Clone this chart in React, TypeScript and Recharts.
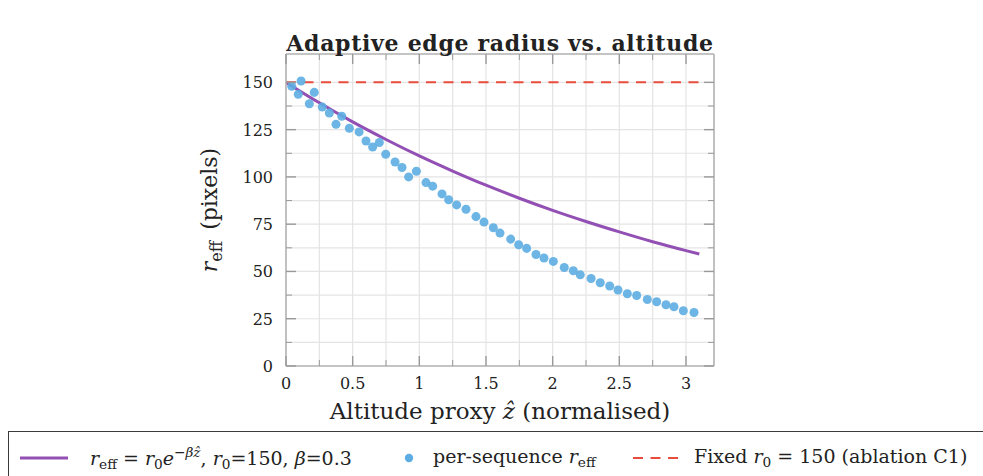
import React from 'react';
import { ComposedChart, Line, Scatter, XAxis, YAxis, CartesianGrid, Label } from 'recharts';

// ---- data ----
const sequenceZ = [0.043, 0.092, 0.113, 0.175, 0.212, 0.272, 0.325, 0.375, 0.418, 0.475, 0.548, 0.6, 0.65, 0.7, 0.748, 0.818, 0.87, 0.92, 0.978, 1.05, 1.1, 1.17, 1.22, 1.28, 1.35, 1.425, 1.485, 1.555, 1.605, 1.685, 1.745, 1.805, 1.875, 1.935, 2.005, 2.087, 2.155, 2.207, 2.288, 2.357, 2.428, 2.49, 2.56, 2.63, 2.71, 2.78, 2.85, 2.91, 2.98, 3.06];
const sequenceR = [147.9, 143.7, 150.7, 138.7, 144.7, 137.0, 133.8, 127.8, 132.1, 125.7, 123.8, 119.0, 115.8, 118.2, 112.0, 107.9, 105.0, 100.0, 103.0, 97.0, 95.1, 91.0, 87.9, 85.2, 82.9, 79.0, 76.1, 73.1, 70.3, 67.1, 64.1, 62.2, 59.0, 57.1, 55.3, 52.1, 50.4, 48.2, 46.3, 44.0, 42.3, 40.2, 38.2, 37.3, 35.2, 34.0, 32.4, 31.3, 29.2, 28.3];
const curveZ = [0, 0.25, 0.5, 0.75, 1.0, 1.25, 1.5, 1.75, 2.0, 2.25, 2.5, 2.75, 3.0, 3.1];
const curveR = [150, 139.2, 129.1, 119.8, 111.1, 103.1, 95.6, 88.7, 82.3, 76.4, 70.9, 65.7, 61.0, 59.2];
const fixedZ = [0, 3.1];
const fixedR = [150, 150];
const xTicks = [0, 0.25, 0.5, 0.75, 1, 1.25, 1.5, 1.75, 2, 2.25, 2.5, 2.75, 3];
const xLabeled = [0, 0.5, 1, 1.5, 2, 2.5, 3];
const yTicks = [0, 12.5, 25, 37.5, 50, 62.5, 75, 87.5, 100, 112.5, 125, 137.5, 150];
const yLabeled = [0, 25, 50, 75, 100, 125, 150];
const xDomain = [0, 3.21];
const yDomain = [0, 165];

const sequenceData = sequenceZ.map((z, i) => ({ z, r: sequenceR[i] }));
const curveData = curveZ.map((z, i) => ({ z, r: curveR[i] }));
const fixedData = fixedZ.map((z, i) => ({ z, r: fixedR[i] }));

// ---- styles ----
const FONT = '"DejaVu Serif", "Liberation Serif", serif';
const PURPLE = '#9350b4';
const BLUE = '#5dade2';
const RED = '#e74c3c';
const SPINE = '#b5b5b5';
const TICK = '#9a9a9a';
const GRID = '#e4e4e4';
const TEXT = '#222';

const isIn = (arr: number[], v: number) => arr.some((a) => Math.abs(a - v) < 1e-9);

const BottomTick = (props: any) => {
  const { x, y, payload } = props;
  const major = isIn(xLabeled, payload.value);
  return (
    <g>
      <line x1={x} x2={x} y1={y} y2={y - (major ? 10 : 6)} stroke={TICK} strokeWidth={major ? 1.4 : 1} />
      {major && (
        <text x={x} y={y + 23} textAnchor="middle" fontFamily={FONT} fontSize={16} fill={TEXT}>
          {String(payload.value)}
        </text>
      )}
    </g>
  );
};

const TopTick = (props: any) => {
  const { x, y, payload } = props;
  const major = isIn(xLabeled, payload.value);
  return <line x1={x} x2={x} y1={y} y2={y + (major ? 10 : 6)} stroke={TICK} strokeWidth={major ? 1.4 : 1} />;
};

const LeftTick = (props: any) => {
  const { x, y, payload } = props;
  const major = isIn(yLabeled, payload.value);
  return (
    <g>
      <line x1={x} x2={x + (major ? 10 : 6)} y1={y} y2={y} stroke={TICK} strokeWidth={major ? 1.4 : 1} />
      {major && (
        <text x={x - 13} y={y + 6} textAnchor="end" fontFamily={FONT} fontSize={16} fill={TEXT}>
          {String(payload.value)}
        </text>
      )}
    </g>
  );
};

const RightTick = (props: any) => {
  const { x, y, payload } = props;
  const major = isIn(yLabeled, payload.value);
  return <line x1={x} x2={x - (major ? 10 : 6)} y1={y} y2={y} stroke={TICK} strokeWidth={major ? 1.4 : 1} />;
};

const TitleLabel = (props: any) => {
  const vb = props.viewBox || { x: 286, y: 53, width: 428 };
  return (
    <text x={vb.x + vb.width / 2} y={vb.y - 2} textAnchor="middle" fontFamily={FONT} fontWeight="bold" fontSize={22} letterSpacing={0.7} fill={TEXT}>
      Adaptive edge radius vs. altitude
    </text>
  );
};

const XTitle = (props: any) => {
  const vb = props.viewBox || { x: 286, y: 366, width: 428 };
  return (
    <text x={vb.x + vb.width / 2} y={vb.y + 53} textAnchor="middle" fontFamily={FONT} fontSize={23} fill={TEXT}>
      Altitude proxy <tspan fontStyle="italic">{'z\u0302'}</tspan> (normalised)
    </text>
  );
};

const YTitle = (props: any) => {
  const vb = props.viewBox || { x: 226, y: 54, width: 60, height: 312 };
  const cx = vb.x - 9;
  const cy = vb.y + vb.height / 2;
  return (
    <text x={cx} y={cy} transform={`rotate(-90 ${cx} ${cy})`} textAnchor="middle" fontFamily={FONT} fontSize={22} fill={TEXT}>
      <tspan fontStyle="italic">r</tspan>
      <tspan fontSize={16} dy={5}>eff</tspan>
      <tspan dy={-5}>{'\u2002(pixels)'}</tspan>
    </text>
  );
};

const Sub = ({ children }: { children: React.ReactNode }) => (
  <span style={{ fontSize: '0.72em', verticalAlign: '-0.3em', fontStyle: 'normal' }}>{children}</span>
);

const LegendBox = () => (
  <div
    style={{
      position: 'absolute',
      left: 8,
      top: 431,
      width: 990,
      height: 54,
      border: '1px solid #3a3a3a',
      boxSizing: 'border-box',
      display: 'flex',
      alignItems: 'center',
      fontFamily: FONT,
      fontSize: 19,
      color: TEXT,
      whiteSpace: 'nowrap',
    }}
  >
    <svg width={48} height={6} style={{ marginLeft: 11, flex: 'none' }}>
      <line x1={0} x2={48} y1={3} y2={3} stroke={PURPLE} strokeWidth={3} />
    </svg>
    <span style={{ marginLeft: 22, width: 292, flex: 'none' }}>
      <i>r</i><Sub>eff</Sub> = <i>r</i><Sub>0</Sub><i>e</i>
      <span style={{ fontSize: '0.72em', verticalAlign: '0.55em' }}>{'\u2212'}<i>{'\u03b2z\u0302'}</i></span>, <i>r</i><Sub>0</Sub>=150, <i>{'\u03b2'}</i>=0.3
    </span>
    <svg width={10} height={10} style={{ marginLeft: 22, flex: 'none' }}>
      <circle cx={5} cy={5} r={4.2} fill={BLUE} />
    </svg>
    <span style={{ marginLeft: 19, width: 200, flex: 'none' }}>
      per-sequence <i>r</i><Sub>eff</Sub>
    </span>
    <svg width={46} height={6} style={{ flex: 'none' }}>
      <line x1={0} x2={46} y1={3} y2={3} stroke={RED} strokeWidth={2} strokeDasharray="10 7.5" />
    </svg>
    <span style={{ marginLeft: 15, flex: 'none' }}>
      Fixed <i>r</i><Sub>0</Sub> = 150 (ablation C1)
    </span>
  </div>
);

export default function App() {
  return (
    <div style={{ position: 'fixed', left: 0, top: 0, width: 983, height: 476, overflow: 'hidden', background: '#fff' }}>
      <ComposedChart width={983} height={476} margin={{ top: 53, right: 268, bottom: 50, left: 226 }}>
        <CartesianGrid stroke={GRID} strokeWidth={1.2} />
        <XAxis
          dataKey="z"
          type="number"
          domain={xDomain}
          ticks={xTicks}
          interval={0}
          allowDataOverflow
          height={60}
          tickSize={0}
          tickMargin={0}
          tickLine={false}
          tick={BottomTick}
          axisLine={{ stroke: SPINE, strokeWidth: 1.6 }}
        >
          <Label content={XTitle} />
        </XAxis>
        <XAxis
          xAxisId="top"
          orientation="top"
          dataKey="z"
          type="number"
          domain={xDomain}
          ticks={xTicks}
          interval={0}
          allowDataOverflow
          height={1}
          tickSize={0}
          tickMargin={0}
          tickLine={false}
          tick={TopTick}
          axisLine={{ stroke: SPINE, strokeWidth: 1.6 }}
        >
          <Label content={TitleLabel} />
        </XAxis>
        <YAxis
          type="number"
          domain={yDomain}
          ticks={yTicks}
          interval={0}
          allowDataOverflow
          width={60}
          tickSize={0}
          tickMargin={0}
          tickLine={false}
          tick={LeftTick}
          axisLine={{ stroke: SPINE, strokeWidth: 1.6 }}
        >
          <Label content={YTitle} />
        </YAxis>
        <YAxis
          yAxisId="right"
          orientation="right"
          type="number"
          domain={yDomain}
          ticks={yTicks}
          interval={0}
          allowDataOverflow
          width={1}
          tickSize={0}
          tickMargin={0}
          tickLine={false}
          tick={RightTick}
          axisLine={{ stroke: SPINE, strokeWidth: 1.6 }}
        />
        <Line data={curveData} dataKey="r" type="monotone" stroke={PURPLE} strokeWidth={3} dot={false} activeDot={false} isAnimationActive={false} />
        <Scatter data={sequenceData} dataKey="r" fill={BLUE} fillOpacity={0.9} isAnimationActive={false} />
        <Line data={fixedData} xAxisId="top" yAxisId="right" dataKey="r" type="linear" stroke={RED} strokeWidth={2} strokeDasharray="10 7.5" dot={false} activeDot={false} isAnimationActive={false} />
      </ComposedChart>
      <LegendBox />
    </div>
  );
}
